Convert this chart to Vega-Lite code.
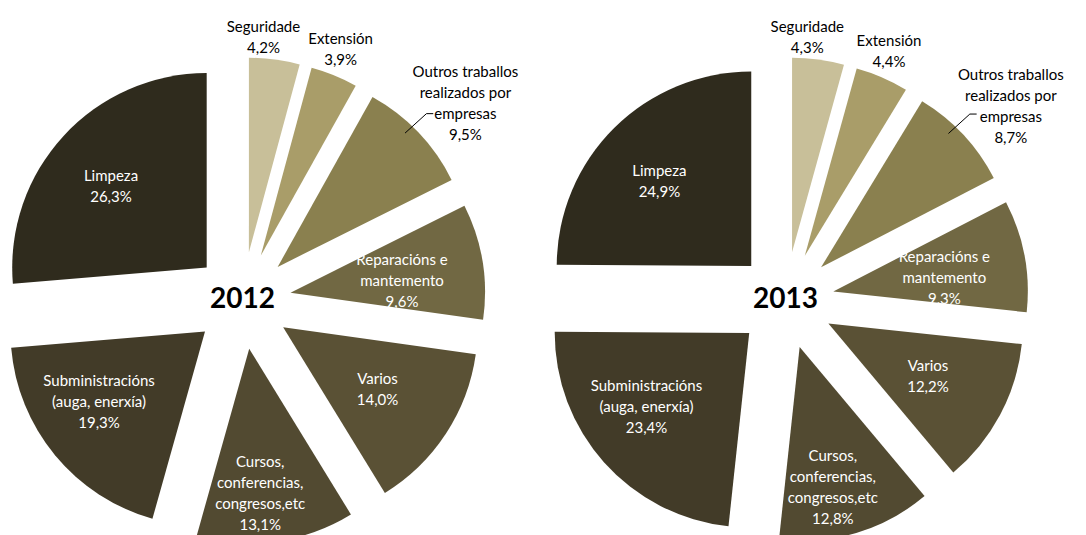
{
  "$schema": "https://vega.github.io/schema/vega-lite/v6.json",
  "padding": 0,
  "spacing": 0,
  "config": {"view": {"stroke": null}, "font": "Lato"},
  "data": {"values": [
    {"year": "2012", "order": 1, "cat": "Seguridade", "label": "Seguridade\n4,2%", "value": 4.2},
    {"year": "2012", "order": 2, "cat": "Extensión", "label": "Extensión\n3,9%", "value": 3.9},
    {"year": "2012", "order": 3, "cat": "Outros", "label": "Outros traballos\nrealizados por\nempresas\n9,5%", "value": 9.5},
    {"year": "2012", "order": 4, "cat": "Reparacións", "label": "Reparacións e\nmantemento\n9,6%", "value": 9.6},
    {"year": "2012", "order": 5, "cat": "Varios", "label": "Varios\n14,0%", "value": 14.0},
    {"year": "2012", "order": 6, "cat": "Cursos", "label": "Cursos,\nconferencias,\ncongresos,etc\n13,1%", "value": 13.1},
    {"year": "2012", "order": 7, "cat": "Subministracións", "label": "Subministracións\n(auga, enerxía)\n19,3%", "value": 19.3},
    {"year": "2012", "order": 8, "cat": "Limpeza", "label": "Limpeza\n26,3%", "value": 26.3},
    {"year": "2013", "order": 1, "cat": "Seguridade", "label": "Seguridade\n4,3%", "value": 4.3},
    {"year": "2013", "order": 2, "cat": "Extensión", "label": "Extensión\n4,4%", "value": 4.4},
    {"year": "2013", "order": 3, "cat": "Outros", "label": "Outros traballos\nrealizados por\nempresas\n8,7%", "value": 8.7},
    {"year": "2013", "order": 4, "cat": "Reparacións", "label": "Reparacións e\nmantemento\n9,3%", "value": 9.3},
    {"year": "2013", "order": 5, "cat": "Varios", "label": "Varios\n12,2%", "value": 12.2},
    {"year": "2013", "order": 6, "cat": "Cursos", "label": "Cursos,\nconferencias,\ncongresos,etc\n12,8%", "value": 12.8},
    {"year": "2013", "order": 7, "cat": "Subministracións", "label": "Subministracións\n(auga, enerxía)\n23,4%", "value": 23.4},
    {"year": "2013", "order": 8, "cat": "Limpeza", "label": "Limpeza\n24,9%", "value": 24.9}
  ]},
  "transform": [
    {"window": [{"op": "sum", "field": "value", "as": "cum"}], "sort": [{"field": "order"}], "groupby": ["year"], "frame": [null, 0]},
    {"joinaggregate": [{"op": "sum", "field": "value", "as": "total"}], "groupby": ["year"]},
    {"calculate": "2*PI*(datum.cum - datum.value)/datum.total", "as": "a0"},
    {"calculate": "2*PI*datum.cum/datum.total", "as": "a1"},
    {"calculate": "(datum.a0 + datum.a1)/2", "as": "mid"},
    {"calculate": "0.25*sin(datum.mid)", "as": "ex"},
    {"calculate": "0.25*cos(datum.mid)", "as": "ey"}
  ],
  "facet": {"column": {"field": "year", "type": "nominal", "header": null}},
  "spec": {
    "width": 543,
    "height": 535,
    "encoding": {
      "x": {"field": "ex", "type": "quantitative", "scale": {"domain": [-1.2468, 1.545], "nice": false, "zero": false}, "axis": null},
      "y": {"field": "ey", "type": "quantitative", "scale": {"domain": [-1.2057, 1.545], "nice": false, "zero": false}, "axis": null}
    },
    "layer": [
      {
        "mark": {"type": "arc", "radius": 194.5},
        "encoding": {
          "theta": {"field": "a0", "type": "quantitative", "scale": null, "stack": null},
          "theta2": {"field": "a1"},
          "color": {"field": "cat", "type": "nominal", "legend": null,
            "scale": {"domain": ["Seguridade", "Extensión", "Outros", "Reparacións", "Varios", "Cursos", "Subministracións", "Limpeza"],
                      "range": ["#C8BF99", "#A99D69", "#8A804F", "#716843", "#5A5135", "#524A31", "#423B28", "#2F2B1D"]}}
        }
      },
      {
        "transform": [{"filter": "datum.cat == 'Seguridade'"}],
        "mark": {"type": "text", "lineBreak": "\n", "fontSize": 15, "lineHeight": 21, "align": "center", "baseline": "middle", "color": "#000000", "dx": -14, "dy": -10},
        "encoding": {"theta": {"field": "mid", "type": "quantitative", "scale": null, "stack": null}, "radius": {"value": 217}, "text": {"field": "label"}}
      },
      {
        "transform": [{"filter": "datum.cat == 'Extensión'"}],
        "mark": {"type": "text", "lineBreak": "\n", "fontSize": 15, "lineHeight": 21, "align": "center", "baseline": "middle", "color": "#000000", "dx": -4, "dy": -11},
        "encoding": {"theta": {"field": "mid", "type": "quantitative", "scale": null, "stack": null}, "radius": {"value": 222}, "text": {"field": "label"}}
      },
      {
        "transform": [{"filter": "datum.cat == 'Outros'"}],
        "mark": {"type": "text", "lineBreak": "\n", "fontSize": 15, "lineHeight": 21, "align": "center", "baseline": "middle", "color": "#000000", "dx": 7, "dy": -22},
        "encoding": {"theta": {"field": "mid", "type": "quantitative", "scale": null, "stack": null}, "radius": {"value": 250}, "text": {"field": "label"}}
      },
      {
        "transform": [{"filter": "datum.cat == 'Reparacións'"}],
        "mark": {"type": "text", "lineBreak": "\n", "fontSize": 15, "lineHeight": 21, "align": "center", "baseline": "middle", "color": "#FFFFFF", "dx": -1, "dy": -14},
        "encoding": {"theta": {"field": "mid", "type": "quantitative", "scale": null, "stack": null}, "radius": {"value": 114}, "text": {"field": "label"}}
      },
      {
        "transform": [{"filter": "datum.cat == 'Varios'"}],
        "mark": {"type": "text", "lineBreak": "\n", "fontSize": 15, "lineHeight": 21, "align": "center", "baseline": "middle", "color": "#FFFFFF", "dx": -1, "dy": -11},
        "encoding": {"theta": {"field": "mid", "type": "quantitative", "scale": null, "stack": null}, "radius": {"value": 114}, "text": {"field": "label"}}
      },
      {
        "transform": [{"filter": "datum.cat == 'Cursos'"}],
        "mark": {"type": "text", "lineBreak": "\n", "fontSize": 15, "lineHeight": 21, "align": "center", "baseline": "middle", "color": "#FFFFFF", "dx": -9, "dy": -30},
        "encoding": {"theta": {"field": "mid", "type": "quantitative", "scale": null, "stack": null}, "radius": {"value": 145}, "text": {"field": "label"}}
      },
      {
        "transform": [{"filter": "datum.cat == 'Subministracións'"}],
        "mark": {"type": "text", "lineBreak": "\n", "fontSize": 15, "lineHeight": 21, "align": "center", "baseline": "middle", "color": "#FFFFFF", "dx": -8, "dy": -31},
        "encoding": {"theta": {"field": "mid", "type": "quantitative", "scale": null, "stack": null}, "radius": {"value": 127}, "text": {"field": "label"}}
      },
      {
        "transform": [{"filter": "datum.cat == 'Limpeza'"}],
        "mark": {"type": "text", "lineBreak": "\n", "fontSize": 15, "lineHeight": 21, "align": "center", "baseline": "middle", "color": "#FFFFFF", "dx": -3, "dy": -6},
        "encoding": {"theta": {"field": "mid", "type": "quantitative", "scale": null, "stack": null}, "radius": {"value": 126}, "text": {"field": "label"}}
      },
      {
        "transform": [
          {"filter": "datum.cat == 'Outros'"},
          {"calculate": "datum.ex + 0.655", "as": "lx1"},
          {"calculate": "datum.ey + 0.688", "as": "ly1"},
          {"calculate": "datum.ex + 0.765", "as": "lx2"},
          {"calculate": "datum.ey + 0.788", "as": "ly2"}
        ],
        "mark": {"type": "rule", "color": "#000000", "strokeWidth": 1},
        "encoding": {
          "x": {"field": "lx1", "type": "quantitative"},
          "y": {"field": "ly1", "type": "quantitative"},
          "x2": {"field": "lx2"},
          "y2": {"field": "ly2"}
        }
      },
      {
        "transform": [
          {"filter": "datum.cat == 'Outros'"},
          {"calculate": "datum.ex + 0.765", "as": "lx2"},
          {"calculate": "datum.ey + 0.788", "as": "ly2"},
          {"calculate": "datum.ex + 0.8", "as": "lx3"}
        ],
        "mark": {"type": "rule", "color": "#000000", "strokeWidth": 1},
        "encoding": {
          "x": {"field": "lx2", "type": "quantitative"},
          "y": {"field": "ly2", "type": "quantitative"},
          "x2": {"field": "lx3"}
        }
      },
      {
        "transform": [{"filter": "datum.order == 1"}],
        "mark": {"type": "text", "fontSize": 28, "fontWeight": "bold", "align": "center", "baseline": "middle", "color": "#000000"},
        "encoding": {
          "x": {"datum": 0, "type": "quantitative"},
          "y": {"datum": 0, "type": "quantitative"},
          "text": {"field": "year"}
        }
      }
    ]
  }
}
